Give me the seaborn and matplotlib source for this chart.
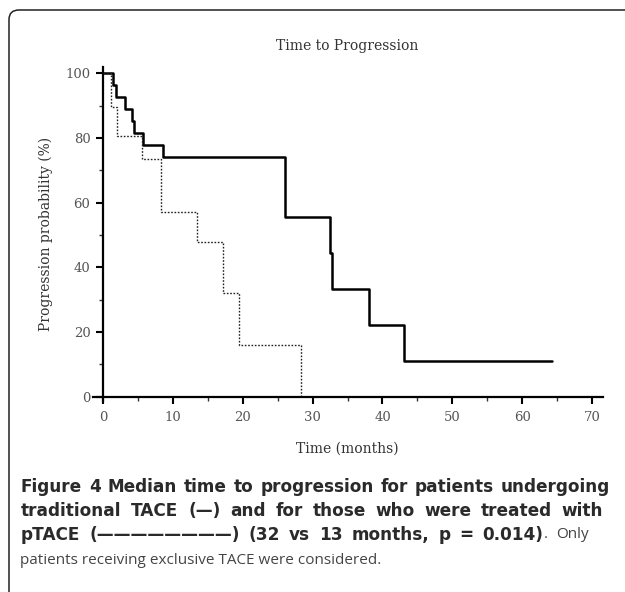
import matplotlib
matplotlib.use("Agg")
import matplotlib.pyplot as plt
from matplotlib.patches import FancyBboxPatch
from matplotlib.ticker import MultipleLocator
import numpy as np
import pandas as pd
import seaborn as sns

# Kaplan-Meier step curves (time in months, probability in %)
tace_months = [0, 1.5, 1.9, 3.2, 4.1, 4.4, 5.7, 8.6, 26.0, 32.5, 32.8, 38.0, 43.1, 64.3]
tace_prob = [100, 96.3, 92.6, 88.9, 85.2, 81.5, 77.8, 74.1, 55.6, 44.4, 33.3, 22.2, 11.1, 11.1]

ptace_months = [0, 1.1, 2.0, 5.6, 8.3, 13.4, 17.2, 19.5, 28.4]
ptace_prob = [100, 89.5, 80.5, 73.5, 57.2, 47.9, 32.0, 16.0, 0]

x_ticks = [0, 10, 20, 30, 40, 50, 60, 70]
y_ticks = [0, 20, 40, 60, 80, 100]

title = "Time to Progression"
x_label = "Time (months)"
y_label = "Progression probability (%)"

caption_bold_1 = "Figure 4 Median time to progression for patients undergoing"
caption_bold_2 = "traditional TACE (\u2014) and for those who were treated with"
caption_bold_3 = "pTACE (" + "\u2014" * 8 + ") (32 vs 13 months, p = 0.014)"
caption_reg_3 = ". Only"
caption_reg_4 = "patients receiving exclusive TACE were considered."

sns.set_theme(style="white")
plt.rcParams["font.family"] = ["DejaVu Serif"]

W, H = 625, 592
fig = plt.figure(figsize=(W / 100, H / 100), dpi=100)
fig.patch.set_facecolor("white")

# outer rounded frame
frame = FancyBboxPatch((9 / W, 1 - 640 / H), 660 / W, 630 / H,
                       boxstyle="round,pad=0,rounding_size=0.016",
                       transform=fig.transFigure, fill=False,
                       edgecolor="#222222", linewidth=1.1, clip_on=True)
fig.patches.append(frame)

left_px, right_px = 92.5, 602.6
top_px, bottom_px = 66.8, 401.5
ax = fig.add_axes([left_px / W, 1 - bottom_px / H,
                   (right_px - left_px) / W, (bottom_px - top_px) / H])
ax.set_facecolor("white")

tace = pd.DataFrame({"month": tace_months, "prob": tace_prob})
ptace = pd.DataFrame({"month": ptace_months, "prob": ptace_prob})

sns.lineplot(data=tace, x="month", y="prob", ax=ax, drawstyle="steps-post",
             color="black", linewidth=1.8, estimator=None, sort=False)
sns.lineplot(data=ptace, x="month", y="prob", ax=ax, drawstyle="steps-post",
             color="#222222", linewidth=1.0, linestyle=(0, (1.2, 1.2)),
             estimator=None, sort=False)

ax.set_xlim(-1.5, 71.5)
ax.set_ylim(-1.5, 102)

for side in ["top", "right"]:
    ax.spines[side].set_visible(False)
ax.spines["left"].set_position(("data", 0))
ax.spines["bottom"].set_position(("data", 0))
for side in ["left", "bottom"]:
    ax.spines[side].set_color("black")
    ax.spines[side].set_linewidth(1.6)

ax.set_xticks(x_ticks)
ax.set_yticks(y_ticks)
ax.xaxis.set_minor_locator(MultipleLocator(5))
ax.yaxis.set_minor_locator(MultipleLocator(10))
ax.tick_params(axis="both", which="major", direction="out", length=5,
               width=1.5, color="black", labelsize=9.5, labelcolor="#555555",
               bottom=True, left=True)
ax.tick_params(axis="both", which="minor", direction="out", length=3,
               width=1.0, color="#333333", bottom=True, left=True)
ax.tick_params(axis="x", which="major", pad=5)
ax.tick_params(axis="y", which="major", pad=4)

ax.set_xlabel(x_label, fontsize=10, color="#333333", labelpad=13)
ax.set_ylabel(y_label, fontsize=10, color="#333333", labelpad=9)
ax.set_title(title, fontsize=10, color="#333333", pad=12)
ax.grid(False)

# caption, set as a justified paragraph
BOLD = dict(family=["DejaVu Sans"], fontweight="bold",
            fontsize=12.2, color="#2a2a2a")
REG = dict(family=["Open Sans", "DejaVu Sans"], fontsize=11, color="#444444")
renderer = fig.canvas.get_renderer()


def caption_line(y_px, pieces, x0_px=20, x1_px=None):
    """pieces: list of (text, style, joined) - joined pieces sit flush with the previous one."""
    tokens = []
    for text, style, joined in pieces:
        for i, word in enumerate(text.split(" ")):
            tokens.append((word, style, joined if i == 0 else False))
    artists = [fig.text(x0_px / W, 1 - y_px / H, w, va="center", ha="left", **st)
               for w, st, _ in tokens]
    widths = [a.get_window_extent(renderer=renderer).width for a in artists]
    n_gaps = sum(1 for (_, _, j) in tokens[1:] if not j)
    if x1_px is None or n_gaps == 0:
        gap = 4.0
    else:
        gap = (x1_px - x0_px - sum(widths)) / n_gaps
    x = x0_px
    for k, (a, w) in enumerate(zip(artists, widths)):
        if k > 0 and not tokens[k][2]:
            x += gap
        a.set_x(x / W)
        x += w


caption_line(487, [(caption_bold_1, BOLD, False)], 21, 610)
caption_line(511, [(caption_bold_2, BOLD, False)], 21, 603)
caption_line(535, [(caption_bold_3, BOLD, False), (caption_reg_3, REG, True)], 21, 589)
fig.text(20 / W, 1 - 560 / H, caption_reg_4, va="center", ha="left", **REG)

fig.savefig("out.png", dpi=100, facecolor="white")
